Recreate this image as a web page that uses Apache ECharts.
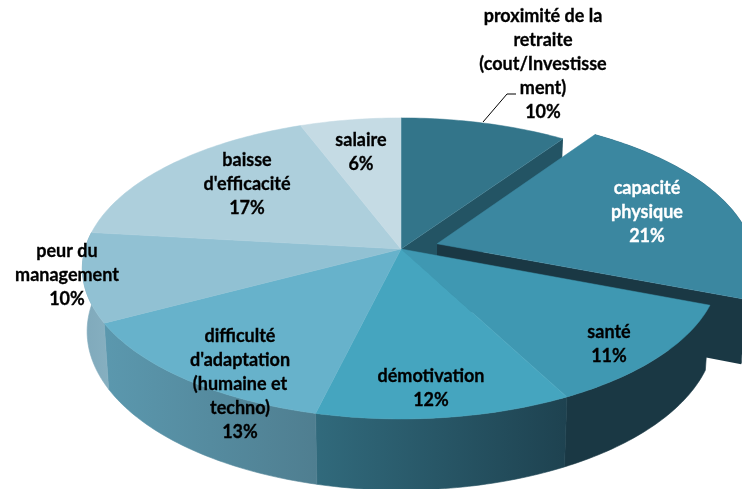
<!DOCTYPE html>
<html><head><meta charset="utf-8">
<style>html,body{margin:0;padding:0;background:#fff}#c{width:742px;height:489px}</style>
<script src="https://cdn.jsdelivr.net/npm/echarts@6/dist/echarts.min.js"></script>
</head><body><div id="c"></div>
<script>
const categories = ["proximité de la\nretraite\n(cout/Investisse\nment)","capacité\nphysique","santé","démotivation","difficulté\nd'adaptation\n(humaine et\ntechno)","peur du\nmanagement","baisse\nd'efficacité","salaire"];
const values = [9.6,21.3,11.4,11.5,13.4,9.6,17.4,5.8];
const exploded = [false,true,false,false,false,false,false,false];
const topColors = ["#33758A","#3B87A0","#3F98B2","#45A5BF","#67B2CB","#91C1D3","#ADCFDC","#C5DBE4"];
const wallColors = [["#235464","#235464"],["#1A3844","#1A3844"],["#1A3844","#1A3844"],["#316A7C","#1E4250"],["#5B98AE","#4F7E90"],["#7FA9BB","#86AFC0"],["#AAC","#AAC"],["#BBB","#BBB"]];
const labelColors = ["#000","#fff","#000","#000","#000","#000","#000","#000"];
const labelCentres = [[543,64],[647,212],[609,344],[431,388],[240,384],[67,275],[247,184],[361,152]];

const LINE = 24, CX = 401, CY = 249, RX = 316, RY = 148, K = 0.129, DEPTH = 62, SHRINK = 0.985, EXPLODE = 0.12;
const total = values.reduce((a,b)=>a+b,0);
const starts = []; values.reduce((acc,v,i)=>{starts[i]=acc;return acc+v;},0);
const rad = v => v/total*2*Math.PI;

function project(u,v){ const p = 1/(1+K*v); return {x:CX+RX*u*p, y:CY-RY*v*p, p}; }
function upper(pt){ return [pt.x,pt.y]; }
function lower(pt){ return [CX+(pt.x-CX)*SHRINK, pt.y+DEPTH*pt.p]; }

function renderItem(params){
  const i = params.dataIndex;
  const a0 = rad(starts[i]), a1 = rad(starts[i]+values[i]), mid=(a0+a1)/2;
  const ox = exploded[i]?EXPLODE*Math.sin(mid):0, oy = exploded[i]?EXPLODE*Math.cos(mid):0;
  const at = a => project(Math.sin(a)+ox, Math.cos(a)+oy);
  const apex = project(ox,oy);
  const arc=[]; const n=Math.ceil((a1-a0)/(Math.PI/180));
  for(let k=0;k<=n;k++) arc.push(at(a0+(a1-a0)*k/n));
  const kids=[];
  const grad = new echarts.graphic.LinearGradient(0,0,1,0,[{offset:0,color:wallColors[i][0]},{offset:1,color:wallColors[i][1]}]);
  const next=(i+1)%values.length;
  if(exploded[next]){
    const e=arc[arc.length-1];
    kids.push({type:'polygon',z2:1,shape:{points:[upper(apex),upper(e),lower(e),lower(apex)]},style:{fill:wallColors[i][0]}});
  }
  if(exploded[i]){
    const e=arc[arc.length-1];
    kids.push({type:'polygon',z2:2,shape:{points:[upper(apex),upper(e),lower(e),lower(apex)]},style:{fill:wallColors[i][0]}});
    kids.push({type:'polygon',z2:2,shape:{points:arc.map(upper).concat(arc.slice().reverse().map(lower))},style:{fill:grad}});
  } else if(Math.cos(a0)<0||Math.cos(a1)<0){
    kids.push({type:'polygon',z2:4,shape:{points:arc.map(upper).concat(arc.slice().reverse().map(lower))},style:{fill:grad,stroke:grad,lineWidth:0.6}});
  }
  kids.push({type:'polygon',z2:exploded[i]?3:5,shape:{points:[upper(apex)].concat(arc.map(upper))},style:{fill:topColors[i],stroke:topColors[i],lineWidth:0.5}});
  const lines=(categories[i]+"\n"+Math.round(values[i])+"%").split("\n");
  const c=labelCentres[i];
  lines.forEach((t,k)=>kids.push({type:'text',z2:10,style:{text:t,x:c[0],y:c[1]+(k-(lines.length-1)/2)*LINE,align:'center',verticalAlign:'middle',fill:labelColors[i],stroke:labelColors[i],lineWidth:0.3,font:'700 18px Lato'}}));
  if(i===0) kids.push({type:'polyline',z2:10,shape:{points:[[483,122],[507,94],[516,94]]},style:{stroke:'#000',lineWidth:1,fill:null}});
  return {type:'group',children:kids};
}

const chart=echarts.init(document.getElementById('c'),null,{renderer:'canvas'});
chart.setOption({animation:false,backgroundColor:'#fff',
  series:[{type:'custom',coordinateSystem:'none',silent:true,clip:false,data:values,renderItem}]});
</script></body></html>
